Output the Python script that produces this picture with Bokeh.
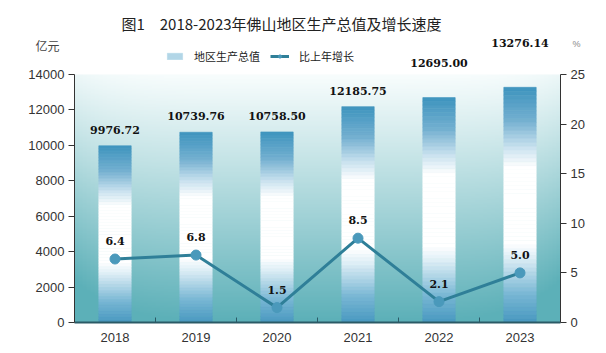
import numpy as np
from bokeh.plotting import figure
from bokeh.models import (Range1d, LinearAxis, FixedTicker, Label, Legend,
                          LegendItem, ColumnDataSource)
from bokeh.embed import file_html
from bokeh.resources import INLINE

# ---------------- data ----------------
years = ["2018", "2019", "2020", "2021", "2022", "2023"]
gdp = [9976.72, 10739.76, 10758.50, 12185.75, 12695.00, 13276.14]
gdp_labels = ["9976.72", "10739.76", "10758.50", "12185.75", "12695.00", "13276.14"]
growth = [6.4, 6.8, 1.5, 8.5, 2.1, 5.0]
growth_labels = ["6.4", "6.8", "1.5", "8.5", "2.1", "5.0"]
left_ticks = [0, 2000, 4000, 6000, 8000, 10000, 12000, 14000]
right_ticks = [0, 5, 10, 15, 20, 25]

title_text = "图1\u30002018-2023年佛山地区生产总值及增长速度"
series_gdp = "地区生产总值"
series_growth = "比上年增长"
unit_left = "亿元"
unit_right = "%"

# ---------------- layout / styles ----------------
W_PX, H_PX = 606, 353
LEFT, RIGHT, BOTTOM = 74, 46, 31
AXIS_TOP_PX = 74                      # canvas y where the axes end
FRAME_H = H_PX - BOTTOM
AXIS_H = FRAME_H - AXIS_TOP_PX
ymax_l = left_ticks[-1] * FRAME_H / AXIS_H
ymax_r = right_ticks[-1] * FRAME_H / AXIS_H

LINE_COLOR = "#2f7f98"
DOT_COLOR = "#4a99bb"
CJK = "Noto Sans CJK SC"
NUM = "Liberation Sans"
VAL = "DejaVu Serif"

p = figure(width=W_PX, height=H_PX, output_backend="svg", toolbar_location=None,
           x_range=Range1d(-0.5, 5.5), y_range=Range1d(0, ymax_l),
           min_border_left=LEFT, min_border_right=RIGHT, min_border_top=0,
           min_border_bottom=BOTTOM)
p.extra_y_ranges = {"pct": Range1d(0, ymax_r)}
p.xgrid.visible = False
p.ygrid.visible = False
p.outline_line_color = None
p.background_fill_color = "white"
p.border_fill_color = "white"

# background gradient (decoration) below the top tick
H, W = 200, 120
rows = np.linspace(1.0, 0.0, H)[:, None]        # row 0 = bottom -> t=1
cols = np.linspace(-1.0, 1.0, W)[None, :]
wgt = rows ** 1.05 + 0.18 * np.abs(cols) ** 6 * (0.4 + 0.6 * rows)
wgt = np.clip(wgt, 0, 1)
top_c = np.array([248, 253, 253])
bot_c = np.array([92, 176, 184])
rgb = top_c[None, None, :] * (1 - wgt[..., None]) + bot_c[None, None, :] * wgt[..., None]
img = np.zeros((H, W), dtype=np.uint32)
view = img.view(dtype=np.uint8).reshape((H, W, 4))
view[..., 0] = rgb[..., 0].astype(np.uint8)
view[..., 1] = rgb[..., 1].astype(np.uint8)
view[..., 2] = rgb[..., 2].astype(np.uint8)
view[..., 3] = 255
p.image_rgba(image=[img], x=-0.5, y=0, dw=6, dh=left_ticks[-1])

# gradient bars, built as thin slices of each bar's value
stops = [(0.00, (72, 152, 192)), (0.12, (120, 182, 212)), (0.28, (225, 240, 247)),
         (0.34, (255, 255, 255)), (0.66, (255, 255, 255)), (0.74, (205, 228, 240)),
         (0.86, (115, 175, 208)), (1.00, (62, 148, 190))]


def grad(f):
    for (f0, c0), (f1, c1) in zip(stops[:-1], stops[1:]):
        if f <= f1:
            u = (f - f0) / (f1 - f0) if f1 > f0 else 0
            c = [int(round(a + (b - a) * u)) for a, b in zip(c0, c1)]
            return "#%02x%02x%02x" % tuple(c)
    return "#%02x%02x%02x" % stops[-1][1]


N = 60
bx, bb, bt, bc = [], [], [], []
for i, v in enumerate(gdp):
    for k in range(N):
        bx.append(i)
        bb.append(v * k / N)
        bt.append(v * (k + 1) / N)
        bc.append(grad((k + 0.5) / N))
bar_src = ColumnDataSource(dict(x=bx, b=bb, t=bt, c=bc))
bars = p.vbar(x="x", width=0.4, bottom="b", top="t", fill_color="c",
              line_color="c", line_width=0.6, source=bar_src)

xs = list(range(len(years)))
line_r = p.line(xs, growth, y_range_name="pct", line_color=LINE_COLOR, line_width=3)
dot_r = p.scatter(xs, growth, y_range_name="pct", size=10, fill_color=DOT_COLOR,
                  line_color=DOT_COLOR)

# value labels
gdp_lift = {4: 19, 5: 28}
for i, v in enumerate(gdp):
    p.add_layout(Label(x=i, y=v, y_offset=16 + gdp_lift.get(i, 0), text=gdp_labels[i],
                       text_align="center", text_baseline="middle", text_font=VAL,
                       text_font_style="bold", text_font_size="11px",
                       text_color="#111111"))
for i, g in enumerate(growth):
    p.add_layout(Label(x=i, y=g, y_range_name="pct", y_offset=18, text=growth_labels[i],
                       text_align="center", text_baseline="middle", text_font=VAL,
                       text_font_style="bold", text_font_size="11px",
                       text_color="#111111"))

# axes
yl = p.left[0]
yl.ticker = FixedTicker(ticks=left_ticks)
yl.bounds = (left_ticks[0], left_ticks[-1])
yr = LinearAxis(y_range_name="pct", ticker=FixedTicker(ticks=right_ticks),
                bounds=(right_ticks[0], right_ticks[-1]))
p.add_layout(yr, "right")
for ax in (yl, yr):
    ax.major_tick_out = 6
    ax.major_tick_in = 0
    ax.minor_tick_out = 0
    ax.minor_tick_in = 0
    ax.axis_line_color = "#333333"
    ax.major_tick_line_color = "#333333"
    ax.major_label_text_font = NUM
    ax.major_label_text_font_size = "13px"
    ax.major_label_text_color = "#333333"
    ax.major_label_standoff = 4

xa = p.below[0]
xa.ticker = FixedTicker(ticks=xs, minor_ticks=[i + 0.5 for i in xs[:-1]])
xa.major_label_overrides = {i: y for i, y in enumerate(years)}
xa.major_tick_in = 0
xa.major_tick_out = 0
xa.minor_tick_in = 5
xa.minor_tick_out = 0
xa.minor_tick_line_color = "#2a5a66"
xa.axis_line_color = "#2a5a66"
xa.axis_line_width = 2
xa.major_label_text_font = NUM
xa.major_label_text_font_size = "13px"
xa.major_label_text_color = "#333333"
xa.major_label_standoff = 10

# legend
legend = Legend(items=[LegendItem(label=series_gdp, renderers=[bars], index=12),
                       LegendItem(label=series_growth, renderers=[line_r, dot_r])],
                orientation="horizontal", location=(91, 258),
                background_fill_alpha=0, border_line_alpha=0,
                label_text_font=CJK, label_text_font_size="11px",
                label_text_color="#222222", glyph_width=19, glyph_height=8,
                label_standoff=10, spacing=10, padding=0, margin=0,
                label_height=14)
p.add_layout(legend)

# title
p.add_layout(Label(x=207, y=FRAME_H - 23, x_units="screen", y_units="screen",
                   text=title_text, text_align="center", text_baseline="middle",
                   text_font=CJK, text_font_size="15px", text_color="#222222"))
# units, in the side panels
p.add_layout(Label(x=46, y=FRAME_H - 45, x_units="screen", y_units="screen",
                   text=unit_left, text_align="center", text_baseline="middle",
                   text_font=CJK, text_font_size="12px", text_color="#444444"), "left")
p.add_layout(Label(x=-11, y=FRAME_H - 43, x_units="screen", y_units="screen",
                   text=unit_right, text_align="center", text_baseline="middle",
                   text_font=NUM, text_font_size="9px", text_color="#888888"), "right")

open("out.html", "w").write(file_html(p, INLINE))
